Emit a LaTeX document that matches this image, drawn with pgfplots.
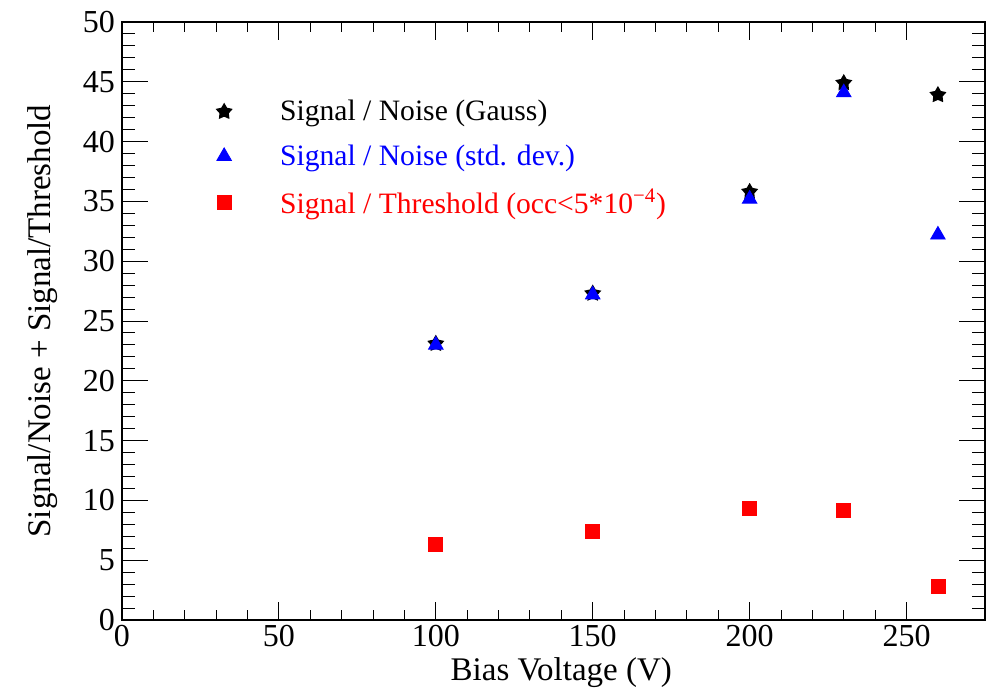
\documentclass[border=0pt]{standalone}
\usepackage{pgfplots}
\pgfplotsset{compat=1.18}
\usepackage{fontspec}
\setmainfont{Liberation Serif}
\pgfdeclareplotmark{fstar}{%
  \pgfpathmoveto{\pgfqpointpolar{90}{\pgfplotmarksize}}%
  \pgfpathlineto{\pgfqpointpolar{126}{0.55\pgfplotmarksize}}%
  \pgfpathlineto{\pgfqpointpolar{162}{\pgfplotmarksize}}%
  \pgfpathlineto{\pgfqpointpolar{198}{0.55\pgfplotmarksize}}%
  \pgfpathlineto{\pgfqpointpolar{234}{\pgfplotmarksize}}%
  \pgfpathlineto{\pgfqpointpolar{270}{0.55\pgfplotmarksize}}%
  \pgfpathlineto{\pgfqpointpolar{306}{\pgfplotmarksize}}%
  \pgfpathlineto{\pgfqpointpolar{342}{0.55\pgfplotmarksize}}%
  \pgfpathlineto{\pgfqpointpolar{18}{\pgfplotmarksize}}%
  \pgfpathlineto{\pgfqpointpolar{54}{0.55\pgfplotmarksize}}%
  \pgfpathclose\pgfusepathqfill}
\begin{document}
\begin{tikzpicture}
\path[use as bounding box] (-61pt,-35.5pt) rectangle (432.5pt,310pt);
\begin{axis}[
  at={(0pt,0pt)}, anchor=south west,
  scale only axis, width=431.5pt, height=299pt,
  xmin=0, xmax=275, ymin=0, ymax=50,
  xtick={0,50,...,250}, ytick={0,5,...,50},
  minor x tick num=4, minor y tick num=4,
  tick align=inside,
  xtick style={/pgfplots/major tick length=9pt,/pgfplots/minor tick length=5pt,black,line width=0.5pt},
  ytick style={/pgfplots/major tick length=13pt,/pgfplots/minor tick length=6.5pt,black,line width=0.5pt},
  axis line style={line width=0.6pt},
  /pgf/number format/assume math mode=true,
  tick label style={font=\fontsize{16pt}{19pt}\selectfont},
  xticklabel style={yshift=1pt},
  every axis x label/.style={at={(axis description cs:0.509,-0.101)}, anchor=base},
  every axis y label/.style={at={(axis description cs:-0.0915,0.5)}, rotate=90, anchor=center},
  label style={font=\fontsize{16.5pt}{19pt}\selectfont},
  xlabel={Bias Voltage (V)},
  ylabel={Signal/Noise + Signal/Threshold},
  legend style={at={(rel axis cs:0.108,0.877)}, anchor=north west, draw=none, fill=none,
    inner sep=0pt, row sep=6.5pt, font=\fontsize{14.8pt}{17pt}\selectfont},
  legend cell align=left,
  legend image code/.code={\draw[#1] plot coordinates {(0pt,0pt)}; \path[draw=none,fill=none] (-4pt,0pt) -- (26pt,0pt);},
]
\addplot[only marks, mark=fstar, mark size=4.5pt, color=black] coordinates {
  (100,23.1) (150,27.3) (200,35.8) (230,44.9) (260,43.9)};
\addlegendentry{\textcolor{black}{Signal / Noise (Gauss)}}
\addplot[only marks, mark=triangle*, mark size=4.2pt, color=blue] coordinates {
  (100,23.0) (150,27.2) (200,35.2) (230,44.1) (260,32.2)};
\addlegendentry{\textcolor{blue}{Signal / Noise (std. dev.)}}
\addplot[only marks, mark=square*, mark size=3.5pt, color=red] coordinates {
  (100,6.3) (150,7.4) (200,9.3) (230,9.2) (260,2.8)};
\addlegendentry{\textcolor{red}{Signal / Threshold (occ<5*10\textsuperscript{−4})}}
\end{axis}
\end{tikzpicture}
\end{document}
